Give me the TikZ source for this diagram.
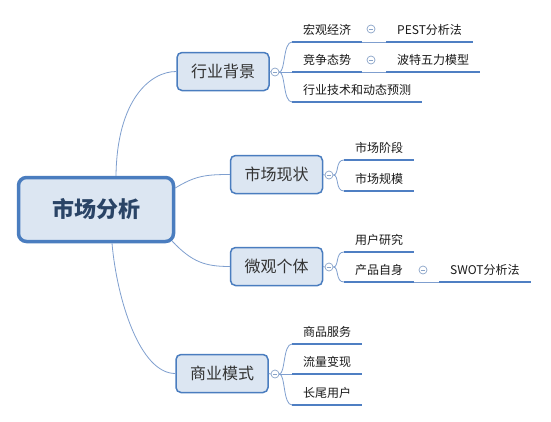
\documentclass[tikz,border=0pt]{standalone}
\usepackage{fontspec}
\setmainfont{Noto Sans CJK SC}
\definecolor{boxc}{HTML}{4A7DBF}
\definecolor{boxf}{HTML}{DCE6F2}
\definecolor{btxt}{HTML}{333333}
\definecolor{rtxt}{HTML}{2A4466}
\definecolor{ltxt}{HTML}{1A1A1A}
\definecolor{ulc}{HTML}{4F7FC3}
\definecolor{lnc}{HTML}{7F9FCF}
\definecolor{fc}{HTML}{8AA4C8}
\begin{document}
\begin{tikzpicture}[x=1pt,y=-1pt,
 box/.style={draw=boxc, fill=boxf, rounded corners=5pt, line width=1.5pt, minimum width=92pt, minimum height=38pt, inner sep=0pt, font=\fontsize{16}{16}\selectfont, text=btxt},
 rootbox/.style={box, line width=3.5pt, rounded corners=8pt, minimum width=155pt, minimum height=64pt, font=\fontsize{22}{22}\selectfont\bfseries, text=rtxt},
 leaf/.style={inner xsep=11pt, inner ysep=4.5pt, text height=9pt, text depth=3pt, font=\fontsize{12}{12}\selectfont, text=ltxt, anchor=south west},
 uline/.style={draw=ulc, line width=2.3pt},
 link/.style={draw=lnc, line width=0.8pt},
 fold/.style={circle, draw=fc, fill=white, line width=0.7pt, minimum size=8pt, inner sep=0pt,
   path picture={\draw[fc, line width=0.7pt] ([xshift=-2.2pt]path picture bounding box.center) -- ([xshift=2.2pt]path picture bounding box.center);}}
]
\useasboundingbox (0,0) rectangle (551,421);
\fill[white] (0,0) rectangle (551,421);

% main nodes
\node[rootbox] (root) at (96,209.5) {市场分析};
\node[box] (b1) at (223,71.5) {行业背景};
\node[box] (b2) at (276.5,174.5) {市场现状};
\node[box] (b3) at (276.5,266.5) {微观个体};
\node[box] (b4) at (222,373.5) {商业模式};

% root connectors
\draw[link] ([xshift=20pt]root.north) .. controls (117,100) and (150,71.5) .. (b1.west);
\draw[link] ([yshift=21.5pt]root.east) .. controls (195,176) and (205,174.5) .. (b2.west);
\draw[link] ([xshift=-3pt,yshift=2pt]root.south east) .. controls (192,262) and (205,266.5) .. (b3.west);
\draw[link] ([xshift=16pt]root.south) .. controls (117,300) and (140,373.5) .. (b4.west);

% fold circles of branches
\node[fold] (f1) at (275,72) {};
\node[fold] (f2) at (329,175) {};
\node[fold] (f3) at (329,267) {};
\node[fold] (f4) at (275,374) {};
\draw[link] (b1.east) -- (f1.west);
\draw[link] (b2.east) -- (f2.west);
\draw[link] (b3.east) -- (f3.west);
\draw[link] (b4.east) -- (f4.west);

% leaves of 行业背景
\node[leaf] (l1) at (292,42) {宏观经济};
\node[leaf] (l1b) at (386,42) {PEST分析法};
\node[leaf] (l2) at (292,72) {竞争态势};
\node[leaf] (l2b) at (386,72) {波特五力模型};
\node[leaf] (l3) at (292,102) {行业技术和动态预测};
\node[fold] (g1) at (371,29) {};
\node[fold] (g2) at (371,60) {};
\foreach \n in {l1,l1b,l2,l2b,l3} {\draw[uline] (\n.south west) -- (\n.south east);}
\draw[link] (l1.south east) -- (l1b.south west);
\draw[link] (l2.south east) -- (l2b.south west);
\draw[link] (f1.east) .. controls +(6,0) and +(-9,0) .. (l1.south west);
\draw[link] (f1.east) -- (l2.south west);
\draw[link] (f1.east) .. controls +(6,0) and +(-9,0) .. (l3.south west);

% leaves of 市场现状
\node[leaf] (m1) at (344,160) {市场阶段};
\node[leaf] (m2) at (344,191) {市场规模};
\foreach \n in {m1,m2} {\draw[uline] (\n.south west) -- (\n.south east);}
\draw[link] (f2.east) .. controls +(6,0) and +(-9,0) .. (m1.south west);
\draw[link] (f2.east) .. controls +(6,0) and +(-9,0) .. (m2.south west);

% leaves of 微观个体
\node[leaf] (u1) at (344,252) {用户研究};
\node[leaf] (u2) at (344,282) {产品自身};
\node[leaf] (u2b) at (439,282) {SWOT分析法};
\node[fold] (g3) at (423,270) {};
\foreach \n in {u1,u2,u2b} {\draw[uline] (\n.south west) -- (\n.south east);}
\draw[link] (u2.south east) -- (u2b.south west);
\draw[link] (f3.east) .. controls +(6,0) and +(-9,0) .. (u1.south west);
\draw[link] (f3.east) .. controls +(6,0) and +(-9,0) .. (u2.south west);

% leaves of 商业模式
\node[leaf] (s1) at (292,344) {商品服务};
\node[leaf] (s2) at (292,374) {流量变现};
\node[leaf] (s3) at (292,405) {长尾用户};
\foreach \n in {s1,s2,s3} {\draw[uline] (\n.south west) -- (\n.south east);}
\draw[link] (f4.east) .. controls +(6,0) and +(-9,0) .. (s1.south west);
\draw[link] (f4.east) -- (s2.south west);
\draw[link] (f4.east) .. controls +(6,0) and +(-9,0) .. (s3.south west);
\end{tikzpicture}
\end{document}
